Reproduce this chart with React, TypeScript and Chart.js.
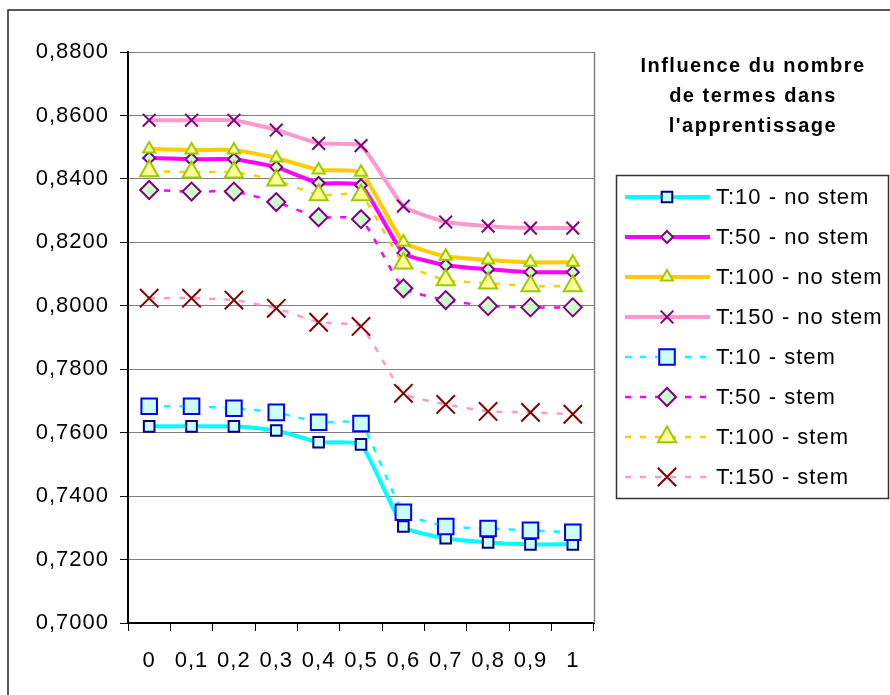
import React, { useEffect, useRef } from "react";
import { Chart, registerables } from "chart.js";
import { drawPoint } from "chart.js/helpers";

Chart.register(...registerables);

const categories = ["0", "0,1", "0,2", "0,3", "0,4", "0,5", "0,6", "0,7", "0,8", "0,9", "1"];

const t10NoStem = [0.762, 0.762, 0.762, 0.7607, 0.757, 0.7563, 0.7304, 0.7267, 0.7254, 0.7248, 0.7248];
const t50NoStem = [0.8466, 0.8462, 0.8462, 0.8437, 0.8387, 0.838, 0.8166, 0.8128, 0.8115, 0.8106, 0.8106];
const t100NoStem = [0.8494, 0.8491, 0.8491, 0.8466, 0.8428, 0.8421, 0.8201, 0.8156, 0.8144, 0.8137, 0.8137];
const t150NoStem = [0.8585, 0.8585, 0.8585, 0.8554, 0.8512, 0.8505, 0.8314, 0.8264, 0.8251, 0.8245, 0.8245];
const t10Stem = [0.7683, 0.7683, 0.7677, 0.7664, 0.7633, 0.7629, 0.7349, 0.7304, 0.7298, 0.7292, 0.7286];
const t50Stem = [0.8365, 0.836, 0.836, 0.8327, 0.8279, 0.8273, 0.8055, 0.8018, 0.7999, 0.7995, 0.7995];
const t100Stem = [0.8425, 0.8421, 0.8421, 0.8396, 0.8349, 0.8349, 0.8134, 0.8081, 0.8071, 0.8062, 0.8062];
const t150Stem = [0.8024, 0.8024, 0.8018, 0.7992, 0.7948, 0.7935, 0.7724, 0.7689, 0.7667, 0.7664, 0.7658];

const seriesLabels = [
  "T:10 - no stem",
  "T:50 - no stem",
  "T:100 - no stem",
  "T:150 - no stem",
  "T:10 - stem",
  "T:50 - stem",
  "T:100 - stem",
  "T:150 - stem",
];
const seriesData = [t10NoStem, t50NoStem, t100NoStem, t150NoStem, t10Stem, t50Stem, t100Stem, t150Stem];

const legendTitle = ["Influence du nombre", "de termes dans", "l'apprentissage"];

const yMin = 0.7;
const yMax = 0.88;
const yStep = 0.02;

const FONT = "'Liberation Sans', Arial, sans-serif";
const SPACING = "1px";

const styles = [
  { line: "#00FFFF", dash: [], width: 4, ps: "rect", r: 7.5, fill: "#CCFFFF", border: "#000080", bw: 2 },
  { line: "#FF00FF", dash: [], width: 4, ps: "rectRot", r: 6, fill: "#CCFFCC", border: "#800080", bw: 2 },
  { line: "#FFCC00", dash: [], width: 4, ps: "triangle", r: 7, fill: "#FFFF99", border: "#99CC00", bw: 2 },
  { line: "#FF99CC", dash: [], width: 4, ps: "crossRot", r: 9, fill: "#800080", border: "#800080", bw: 2 },
  { line: "#00FFFF", dash: [6, 9], width: 2.5, ps: "rect", r: 11, fill: "#CCFFFF", border: "#0000FF", bw: 2 },
  { line: "#FF00FF", dash: [6, 9], width: 2.5, ps: "rectRot", r: 9, fill: "#CCFFCC", border: "#800080", bw: 2 },
  { line: "#FFCC00", dash: [6, 9], width: 2.5, ps: "triangle", r: 10.5, fill: "#FFFF99", border: "#99CC00", bw: 2 },
  { line: "#FF99CC", dash: [6, 9], width: 2.5, ps: "crossRot", r: 13, fill: "#800000", border: "#800000", bw: 2 },
];

const decorPlugin = {
  id: "decor",
  beforeUpdate(chart: any) {
    chart.ctx.letterSpacing = SPACING;
  },
  beforeDraw(chart: any) {
    const ctx = chart.ctx;
    ctx.letterSpacing = SPACING;
    ctx.save();
    ctx.fillStyle = "#ffffff";
    ctx.fillRect(0, 0, chart.width, chart.height);
    ctx.restore();
  },
  afterDraw(chart: any) {
    const ctx = chart.ctx;
    const area = chart.chartArea;
    ctx.save();
    // plot area right border
    ctx.strokeStyle = "#808080";
    ctx.lineWidth = 1.5;
    ctx.beginPath();
    ctx.moveTo(area.right + 0.5, area.top);
    ctx.lineTo(area.right + 0.5, area.bottom);
    ctx.stroke();
    // outer frame
    ctx.strokeStyle = "#222";
    ctx.lineWidth = 1.5;
    ctx.beginPath();
    ctx.moveTo(8, chart.height);
    ctx.lineTo(8, 10);
    ctx.lineTo(chart.width, 10);
    ctx.stroke();
    // legend title
    ctx.letterSpacing = "1.5px";
    ctx.fillStyle = "#000";
    ctx.font = `bold 20px ${FONT}`;
    ctx.textAlign = "center";
    ctx.textBaseline = "middle";
    legendTitle.forEach((t, i) => ctx.fillText(t, 753, 66 + i * 30));
    // legend box
    ctx.strokeStyle = "#333";
    ctx.lineWidth = 1.5;
    ctx.strokeRect(616.5, 175.5, 272, 323);
    ctx.letterSpacing = SPACING;
    ctx.font = `22px ${FONT}`;
    ctx.textAlign = "left";
    seriesLabels.forEach((label, i) => {
      const s = styles[i];
      const y = 197 + i * 40;
      ctx.save();
      ctx.strokeStyle = s.line;
      ctx.lineWidth = s.width;
      ctx.setLineDash(s.dash);
      ctx.beginPath();
      ctx.moveTo(625, y);
      ctx.lineTo(710, y);
      ctx.stroke();
      ctx.setLineDash([]);
      ctx.fillStyle = s.fill;
      ctx.strokeStyle = s.border;
      ctx.lineWidth = s.bw;
      drawPoint(ctx, { pointStyle: s.ps, radius: s.r, rotation: 0, borderWidth: s.bw }, 667, y);
      ctx.restore();
      ctx.fillStyle = "#000";
      ctx.fillText(label, 716, y + 1);
    });
    ctx.restore();
  },
};

export default function App() {
  const ref = useRef<HTMLCanvasElement>(null);
  useEffect(() => {
    if (!ref.current) return;
    const datasets = seriesData.map((d, i) => {
      const s = styles[i];
      return {
        label: seriesLabels[i],
        data: d,
        borderColor: s.line,
        borderWidth: s.width,
        borderDash: s.dash,
        tension: 0.15,
        fill: false,
        pointStyle: s.ps,
        pointRadius: s.r,
        pointBackgroundColor: s.fill,
        pointBorderColor: s.border,
        pointBorderWidth: s.bw,
        order: 10 - i,
      };
    });
    const chart = new Chart(ref.current, {
      type: "line",
      data: { labels: categories, datasets },
      options: {
        animation: false,
        responsive: false,
        maintainAspectRatio: false,
        devicePixelRatio: 1,
        layout: { padding: { top: 52, left: 0, right: 296, bottom: 0 } },
        plugins: { legend: { display: false }, tooltip: { enabled: false }, title: { display: false } },
        scales: {
          x: {
            type: "category",
            offset: true,
            grid: {
              display: true,
              drawOnChartArea: false,
              drawTicks: true,
              offset: true,
              tickLength: 8,
              tickColor: "#000",
              tickWidth: 1,
            },
            border: { display: true, color: "#000", width: 2 },
            ticks: { color: "#000", font: { family: FONT, size: 22 }, padding: 17, maxRotation: 0, autoSkip: false },
            afterFit: (s: any) => {
              s.height = 72;
            },
          },
          y: {
            min: yMin,
            max: yMax,
            grid: { color: "#808080", lineWidth: 1, tickLength: 8, tickColor: "#000", tickWidth: 1 },
            border: { display: true, color: "#000", width: 2 },
            ticks: {
              stepSize: yStep,
              color: "#000",
              font: { family: FONT, size: 22 },
              padding: 11,
              callback: (v: any) => Number(v).toFixed(4).replace(".", ","),
            },
            afterFit: (s: any) => {
              s.width = 128;
            },
          },
        },
      },
      plugins: [decorPlugin],
    });
    return () => chart.destroy();
  }, []);
  return (
    <div style={{ position: "absolute", left: 0, top: 0, width: 890, height: 695, background: "#fff" }}>
      <canvas ref={ref} width={890} height={695} style={{ width: 890, height: 695, display: "block" }} />
    </div>
  );
}
